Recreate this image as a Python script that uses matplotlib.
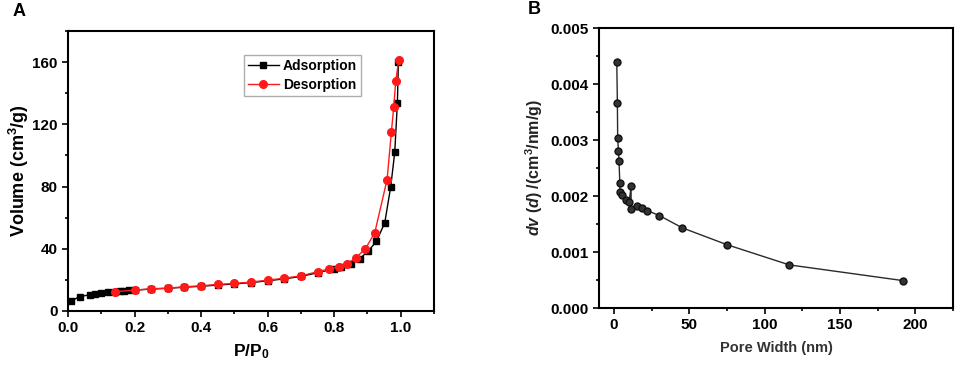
import matplotlib
matplotlib.use("Agg")
import matplotlib.pyplot as plt
from matplotlib.ticker import MultipleLocator, FormatStrFormatter

plt.rcParams['font.family'] = ['Liberation Sans', 'DejaVu Sans']
plt.rcParams['font.weight'] = 'bold'
plt.rcParams['mathtext.fontset'] = 'custom'
plt.rcParams['mathtext.rm'] = 'Liberation Sans:bold'
plt.rcParams['mathtext.it'] = 'Liberation Sans:italic:bold'
plt.rcParams['mathtext.bf'] = 'Liberation Sans:bold'

# Panel A: N2 adsorption/desorption isotherm
ads_p = [0.01, 0.035, 0.067, 0.08, 0.10, 0.12, 0.14, 0.156, 0.169, 0.183, 0.20,
         0.25, 0.30, 0.35, 0.40, 0.45, 0.50, 0.55, 0.60, 0.65, 0.70, 0.75,
         0.80, 0.82, 0.85, 0.877, 0.902, 0.927, 0.952, 0.970, 0.982, 0.990, 0.993]
ads_v = [6.6, 9.2, 10.5, 10.9, 11.6, 12.2, 12.5, 12.8, 13.0, 13.2, 13.4,
         14.1, 14.6, 15.3, 15.9, 16.7, 17.4, 18.3, 19.4, 20.7, 22.2, 24.6,
         27.1, 28.2, 30.5, 33.7, 38.4, 44.8, 56.7, 80.0, 102.0, 134.0, 160.0]

des_p = [0.14, 0.20, 0.25, 0.30, 0.35, 0.40, 0.45, 0.50, 0.55, 0.60, 0.65,
         0.70, 0.75, 0.785, 0.814, 0.84, 0.865, 0.894, 0.922, 0.959, 0.972,
         0.979, 0.985, 0.994]
des_v = [12.4, 13.4, 14.3, 14.7, 15.6, 16.2, 17.1, 17.7, 18.6, 19.8, 21.1,
         22.6, 25.2, 27.1, 28.4, 30.5, 34.1, 40.1, 50.3, 84.5, 115.2,
         131.2, 147.8, 161.3]

# Panel B: pore size distribution
pore_w = [1.8, 2.2, 2.4, 2.9, 3.3, 3.8, 4.0, 5.1, 7.8, 10.0, 11.3, 11.3,
          15.1, 18.4, 22.1, 30.1, 45.4, 75.0, 116.3, 191.6]
pore_dv = [0.00440, 0.00366, 0.00303, 0.00281, 0.00262, 0.00224, 0.00208,
           0.00202, 0.00193, 0.00189, 0.00217, 0.00176, 0.00182, 0.00178,
           0.00174, 0.00165, 0.00143, 0.00113, 0.00077, 0.00049]

W, H = 957, 368
fig = plt.figure(figsize=(W / 100, H / 100), dpi=100)

axA = fig.add_axes([68 / W, 1 - 311 / H, 366 / W, 280 / H])
axA.plot(ads_p, ads_v, color='black', marker='s', markersize=5, lw=1.0,
         label='Adsorption')
axA.plot(des_p, des_v, color='#ff1a1a', marker='o', markersize=5.5, lw=1.0,
         label='Desorption')
axA.set_xlim(0, 1.1)
axA.set_ylim(0, 180)
axA.xaxis.set_major_locator(MultipleLocator(0.2))
axA.xaxis.set_minor_locator(MultipleLocator(0.1))
axA.xaxis.set_major_formatter(FormatStrFormatter('%.1f'))
axA.yaxis.set_major_locator(MultipleLocator(40))
axA.yaxis.set_minor_locator(MultipleLocator(20))
axA.set_xlabel('P/P$_0$', fontsize=12.5, fontweight='bold', labelpad=5)
axA.set_ylabel('Volume (cm$^3$/g)', fontsize=13, fontweight='bold', labelpad=1)
leg = axA.legend(loc='upper right', bbox_to_anchor=(0.82, 0.94), fontsize=10,
                 frameon=True, fancybox=False, edgecolor='#999999',
                 handlelength=2.2, borderpad=0.3, labelspacing=0.35,
                 handletextpad=0.3)
leg.get_frame().set_linewidth(1.0)

axB = fig.add_axes([599 / W, 1 - 308 / H, 354 / W, 280 / H])
axB.plot(pore_w, pore_dv, color='#2a2a2a', marker='o', markersize=5, lw=1.0,
         markeredgecolor='#111111', markerfacecolor='#333333')
axB.set_xlim(-10, 225)
axB.set_ylim(0, 0.005)
axB.xaxis.set_major_locator(MultipleLocator(50))
axB.xaxis.set_minor_locator(MultipleLocator(25))
axB.yaxis.set_major_locator(MultipleLocator(0.001))
axB.yaxis.set_minor_locator(MultipleLocator(0.0005))
axB.yaxis.set_major_formatter(FormatStrFormatter('%.3f'))
axB.set_xlabel('Pore Width (nm)', fontsize=10.5, fontweight='bold', labelpad=6,
               color='#333333')
axB.set_ylabel(r'$dv$ ($d$) /(cm$^3$/nm/g)', fontsize=11.5, fontweight='bold',
               labelpad=4, color='#222222')

for ax in (axA, axB):
    for s in ax.spines.values():
        s.set_linewidth(1.5)
    ax.tick_params(which='both', direction='out', top=False, right=False,
                   width=1.2)
    ax.tick_params(which='major', length=4, labelsize=11)
    ax.tick_params(which='minor', length=2.5)
    for lab in ax.get_xticklabels() + ax.get_yticklabels():
        lab.set_fontweight('bold')

fig.text(13 / W, 1 - 11 / H, 'A', fontsize=13, fontweight='bold', va='center')
fig.text(528 / W, 1 - 9 / H, 'B', fontsize=13, fontweight='bold', va='center')

fig.savefig('out.png', dpi=100)
